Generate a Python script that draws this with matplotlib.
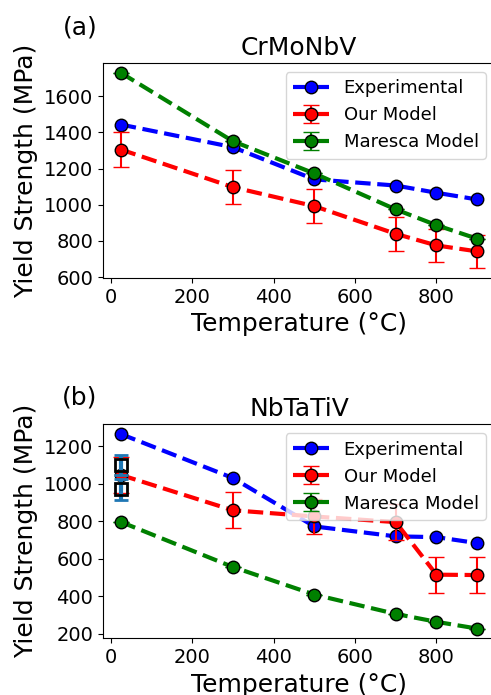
import matplotlib
matplotlib.use("Agg")
import matplotlib.pyplot as plt
from matplotlib.ticker import MultipleLocator

temps = [25, 300, 500, 700, 800, 900]

# (a) CrMoNbV
a_exp = [1443, 1318, 1140, 1106, 1066, 1029]
a_our = [1305, 1097, 992, 839, 775, 742]
a_our_err = [94, 93, 94, 93, 93, 93]
a_mar = [1729, 1351, 1173, 974, 887, 812]

# (b) NbTaTiV
b_exp = [1264, 1030, 772, 719, 715, 683]
b_our = [1046, 858, 825, 795, 515, 513]
b_our_err = [95, 95, 95, 95, 95, 95]
b_mar = [796, 556, 409, 306, 264, 228]
b_extra_t = [25, 25]
b_extra = [1099, 970]
b_extra_err = [53, 57]

fig = plt.figure(figsize=(4.91, 6.95), dpi=100)
ax1 = fig.add_axes([103/491, 1-278/695, 392/491, 215/695])
ax2 = fig.add_axes([103/491, 1-638.3/695, 392/491, 214/695])

def draw(ax, exp, our, our_err, mar, title):
    ax.plot(temps, exp, '--o', color='blue', lw=3, ms=9, mec='black',
            label='Experimental')
    ax.errorbar(temps, our, yerr=our_err, fmt='--o', color='red', lw=3, ms=9,
                mec='black', ecolor='red', elinewidth=1.5, capsize=6,
                label='Our Model')
    ax.errorbar(temps, mar, yerr=[0]*len(mar), fmt='--o', color='green', lw=3,
                ms=9, mec='black', ecolor='green', elinewidth=1.5, capsize=6,
                label='Maresca Model')
    ax.set_title(title, fontsize=18)
    ax.set_xlabel('Temperature (°C)', fontsize=18)
    ax.set_ylabel('Yield Strength (MPa)', fontsize=18)
    ax.tick_params(labelsize=14)
    ax.yaxis.set_major_locator(MultipleLocator(200))
    ax.set_xticks([0, 200, 400, 600, 800])
    ax.legend(loc='upper right', fontsize=13)

draw(ax1, a_exp, a_our, a_our_err, a_mar, 'CrMoNbV')
draw(ax2, b_exp, b_our, b_our_err, b_mar, 'NbTaTiV')
ax2.errorbar(b_extra_t, b_extra, yerr=b_extra_err, fmt='s', mfc='none',
             mec='black', mew=2, ms=9, ecolor='tab:blue', elinewidth=3,
             capsize=5, zorder=5)

fig.text(80/491, 1-28/695, '(a)', fontsize=18, ha='center', va='center')
fig.text(80/491, 1-397/695, '(b)', fontsize=18, ha='center', va='center')

fig.savefig('out.png', dpi=100)
